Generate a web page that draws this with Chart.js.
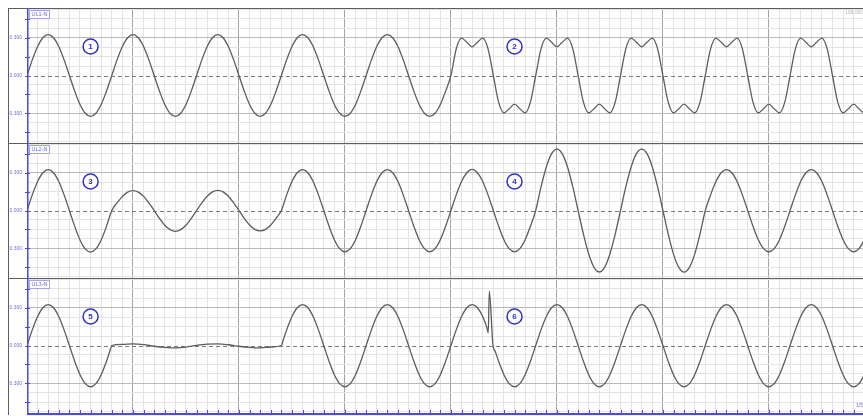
<!DOCTYPE html>
<html lang="en">
<head>
<meta charset="UTF-8">
<title>UL1-N / UL2-N / UL3-N</title>
<style>
  html, body { margin: 0; padding: 0; background: #fff; }
  #wrap { position: relative; width: 863px; height: 416px; overflow: hidden; background: #fff; }
  #wrap canvas { position: absolute; left: 0; }
</style>
</head>
<body>
<div id="wrap">
  <canvas id="ul1" width="863" height="143" style="top:0px"></canvas>
  <canvas id="ul2" width="863" height="135" style="top:143px"></canvas>
  <canvas id="ul3" width="863" height="138" style="top:278px"></canvas>
</div>

<script src="https://cdn.jsdelivr.net/npm/chart.js"></script>
<script>
// time in ms

// sample times shared by UL1-N and UL2-N
const timeMs = [
  0, 1.25, 2.5, 3.75, 5, 6.25, 7.5, 8.75, 10, 11.25, 12.5, 13.75, 15, 16.25, 17.5, 18.75,
  20, 21.25, 22.5, 23.75, 25, 26.25, 27.5, 28.75, 30, 31.25, 32.5, 33.75, 35, 36.25, 37.5, 38.75,
  40, 41.25, 42.5, 43.75, 45, 46.25, 47.5, 48.75, 50, 51.25, 52.5, 53.75, 55, 56.25, 57.5, 58.75,
  60, 61.25, 62.5, 63.75, 65, 66.25, 67.5, 68.75, 70, 71.25, 72.5, 73.75, 75, 76.25, 77.5, 78.75,
  80, 81.25, 82.5, 83.75, 85, 86.25, 87.5, 88.75, 90, 91.25, 92.5, 93.75, 95, 96.25, 97.5, 98.75,
  100, 101.25, 102.5, 103.75, 105, 106.25, 107.5, 108.75, 110, 111.25, 112.5, 113.75, 115, 116.25, 117.5, 118.75,
  120, 121.25, 122.5, 123.75, 125, 126.25, 127.5, 128.75, 130, 131.25, 132.5, 133.75, 135, 136.25, 137.5, 138.75,
  140, 141.25, 142.5, 143.75, 145, 146.25, 147.5, 148.75, 150, 151.25, 152.5, 153.75, 155, 156.25, 157.5, 158.75,
  160, 161.25, 162.5, 163.75, 165, 166.25, 167.5, 168.75, 170, 171.25, 172.5, 173.75, 175, 176.25, 177.5, 178.75,
  180, 181.25, 182.5, 183.75, 185, 186.25, 187.5, 188.75, 190, 191.25, 192.5, 193.75, 195, 196.25, 197.5, 198.75,
  200
];

// UL1-N: five clean cycles, then five flat-topped cycles
const ul1Volt = [
  0, 0.124, 0.23, 0.30, 0.325, 0.30, 0.23, 0.124, 0, -0.124, -0.23, -0.30, -0.325, -0.30, -0.23, -0.124,
  0, 0.124, 0.23, 0.30, 0.325, 0.30, 0.23, 0.124, 0, -0.124, -0.23, -0.30, -0.325, -0.30, -0.23, -0.124,
  0, 0.124, 0.23, 0.30, 0.325, 0.30, 0.23, 0.124, 0, -0.124, -0.23, -0.30, -0.325, -0.30, -0.23, -0.124,
  0, 0.124, 0.23, 0.30, 0.325, 0.30, 0.23, 0.124, 0, -0.124, -0.23, -0.30, -0.325, -0.30, -0.23, -0.124,
  0, 0.124, 0.23, 0.30, 0.325, 0.30, 0.23, 0.124, 0, -0.124, -0.23, -0.30, -0.325, -0.30, -0.23, -0.124,
  0, 0.212, 0.297, 0.264, 0.228, 0.264, 0.297, 0.212, 0, -0.212, -0.297, -0.264, -0.228, -0.264, -0.297, -0.212,
  0, 0.212, 0.297, 0.264, 0.228, 0.264, 0.297, 0.212, 0, -0.212, -0.297, -0.264, -0.228, -0.264, -0.297, -0.212,
  0, 0.212, 0.297, 0.264, 0.228, 0.264, 0.297, 0.212, 0, -0.212, -0.297, -0.264, -0.228, -0.264, -0.297, -0.212,
  0, 0.212, 0.297, 0.264, 0.228, 0.264, 0.297, 0.212, 0, -0.212, -0.297, -0.264, -0.228, -0.264, -0.297, -0.212,
  0, 0.212, 0.297, 0.264, 0.228, 0.264, 0.297, 0.212, 0, -0.212, -0.297, -0.264, -0.228, -0.264, -0.297, -0.212,
  0
];

// UL2-N: sag in cycles 2-3, swell in cycles 7-8
const ul2Volt = [
  0, 0.124, 0.23, 0.30, 0.325, 0.30, 0.23, 0.124, 0, -0.126, -0.234, -0.305, -0.33, -0.305, -0.234, -0.126,
  0, 0.060, 0.112, 0.146, 0.158, 0.146, 0.112, 0.060, 0, -0.063, -0.117, -0.152, -0.165, -0.152, -0.117, -0.063,
  0, 0.061, 0.113, 0.148, 0.160, 0.148, 0.113, 0.061, 0, -0.062, -0.115, -0.150, -0.162, -0.150, -0.115, -0.062,
  0, 0.124, 0.23, 0.30, 0.325, 0.30, 0.23, 0.124, 0, -0.125, -0.232, -0.303, -0.328, -0.303, -0.232, -0.125,
  0, 0.124, 0.23, 0.30, 0.325, 0.30, 0.23, 0.124, 0, -0.125, -0.232, -0.303, -0.328, -0.303, -0.232, -0.125,
  0, 0.124, 0.23, 0.30, 0.326, 0.30, 0.23, 0.124, 0, -0.125, -0.232, -0.303, -0.328, -0.303, -0.232, -0.125,
  0, 0.187, 0.345, 0.451, 0.488, 0.451, 0.345, 0.187, 0, -0.187, -0.345, -0.451, -0.488, -0.451, -0.345, -0.187,
  0, 0.187, 0.345, 0.451, 0.488, 0.451, 0.345, 0.187, 0, -0.187, -0.346, -0.452, -0.49, -0.452, -0.346, -0.187,
  0, 0.124, 0.23, 0.30, 0.325, 0.30, 0.23, 0.124, 0, -0.125, -0.232, -0.303, -0.328, -0.303, -0.232, -0.125,
  0, 0.124, 0.23, 0.30, 0.325, 0.30, 0.23, 0.124, 0, -0.125, -0.232, -0.303, -0.328, -0.303, -0.232, -0.125,
  0
];

// UL3-N: interruption for two cycles, transient spike near 109 ms
const ul3Time = [
  0, 1.25, 2.5, 3.75, 5, 6.25, 7.5, 8.75, 10, 11.25, 12.5, 13.75, 15, 16.25, 17.5, 18.75, 19.5,
  20, 22.5, 25, 27.5, 30, 32.5, 35, 37.5, 40, 42.5, 45, 47.5, 50, 52.5, 55, 57.5,
  60, 60.5, 61.25, 62.5, 63.75, 65, 66.25, 67.5, 68.75, 70, 71.25, 72.5, 73.75, 75, 76.25, 77.5, 78.75,
  80, 81.25, 82.5, 83.75, 85, 86.25, 87.5, 88.75, 90, 91.25, 92.5, 93.75, 95, 96.25, 97.5, 98.75,
  100, 101.25, 102.5, 103.75, 105, 106.25, 107.5, 108.5, 108.8, 109.05, 109.9, 110.5, 111.25, 112.5, 113.75, 115, 116.25, 117.5, 118.75,
  120, 121.25, 122.5, 123.75, 125, 126.25, 127.5, 128.75, 130, 131.25, 132.5, 133.75, 135, 136.25, 137.5, 138.75,
  140, 141.25, 142.5, 143.75, 145, 146.25, 147.5, 148.75, 150, 151.25, 152.5, 153.75, 155, 156.25, 157.5, 158.75,
  160, 161.25, 162.5, 163.75, 165, 166.25, 167.5, 168.75, 170, 171.25, 172.5, 173.75, 175, 176.25, 177.5, 178.75,
  180, 181.25, 182.5, 183.75, 185, 186.25, 187.5, 188.75, 190, 191.25, 192.5, 193.75, 195, 196.25, 197.5, 198.75,
  200
];
const ul3Volt = [
  0, 0.124, 0.23, 0.30, 0.325, 0.30, 0.23, 0.124, 0, -0.125, -0.232, -0.303, -0.328, -0.303, -0.232, -0.125, -0.05,
  0, 0.009, 0.013, 0.007, -0.006, -0.015, -0.019, -0.013, 0.001, 0.011, 0.013, 0.006, -0.006, -0.015, -0.019, -0.012,
  0, 0.05, 0.124, 0.23, 0.30, 0.325, 0.30, 0.23, 0.124, 0, -0.125, -0.232, -0.303, -0.328, -0.303, -0.232, -0.125,
  0, 0.124, 0.23, 0.30, 0.325, 0.30, 0.23, 0.124, 0, -0.125, -0.232, -0.303, -0.328, -0.303, -0.232, -0.125,
  0, 0.124, 0.23, 0.30, 0.325, 0.30, 0.23, 0.14, 0.10, 0.43, 0.01, -0.051, -0.125, -0.232, -0.303, -0.328, -0.303, -0.232, -0.125,
  0, 0.124, 0.23, 0.30, 0.325, 0.30, 0.23, 0.124, 0, -0.125, -0.232, -0.303, -0.328, -0.303, -0.232, -0.125,
  0, 0.124, 0.23, 0.30, 0.325, 0.30, 0.23, 0.124, 0, -0.125, -0.232, -0.303, -0.328, -0.303, -0.232, -0.125,
  0, 0.124, 0.23, 0.30, 0.325, 0.30, 0.23, 0.124, 0, -0.125, -0.232, -0.303, -0.328, -0.303, -0.232, -0.125,
  0, 0.124, 0.23, 0.30, 0.325, 0.30, 0.23, 0.124, 0, -0.125, -0.232, -0.303, -0.328, -0.303, -0.232, -0.125,
  0
];

const yTickValues = [0.3, 0, -0.3];
const yTickLabels = ['0.300', '0.000', '-0.300'];
const stripNames = ['UL1-N', 'UL2-N', 'UL3-N'];
const eventNumbers = [['1', '2'], ['3', '4'], ['5', '6']];

const BLUE = '#4a4ae2';
const LABEL_BLUE = '#6b6bd6';

// frame, blue axes, labels and the numbered circles
const decor = {
    id: 'decor',
    beforeDatasetsDraw(chart) {
        const { ctx, chartArea: a } = chart;
        const y0 = Math.round(chart.scales.y.getPixelForValue(0)) + 0.5;
        ctx.save();
        ctx.strokeStyle = '#7c7c7c';
        ctx.lineWidth = 1;
        ctx.setLineDash([4, 3]);
        ctx.beginPath();
        ctx.moveTo(a.left, y0);
        ctx.lineTo(a.right, y0);
        ctx.stroke();
        ctx.restore();
    },
    afterDraw(chart, args, o) {
        const { ctx, chartArea: a, scales: { x, y } } = chart;
        ctx.save();

        // left edge + line on top of each strip
        ctx.strokeStyle = '#5e5e5e';
        ctx.lineWidth = 1;
        ctx.beginPath();
        ctx.moveTo(8.5, a.top);
        ctx.lineTo(8.5, a.bottom);
        ctx.moveTo(8, a.top + 0.5);
        ctx.lineTo(a.right, a.top + 0.5);
        ctx.stroke();

        // value axis
        ctx.strokeStyle = BLUE;
        ctx.lineWidth = 1.5;
        ctx.beginPath();
        ctx.moveTo(a.left + 0.75, a.top);
        ctx.lineTo(a.left + 0.75, a.bottom);
        ctx.stroke();
        ctx.lineWidth = 1;
        ctx.beginPath();
        [-0.45, -0.3, -0.15, 0, 0.15, 0.3, 0.45].forEach(v => {
            const py = Math.round(y.getPixelForValue(v)) + 0.5;
            ctx.moveTo(a.left - 2, py);
            ctx.lineTo(a.left + 3, py);
        });
        ctx.stroke();

        ctx.fillStyle = LABEL_BLUE;
        ctx.font = '5px "Liberation Sans", Arial, sans-serif';
        ctx.textAlign = 'right';
        ctx.textBaseline = 'middle';
        yTickValues.forEach((v, i) => {
            ctx.fillText(yTickLabels[i], a.left - 5, y.getPixelForValue(v));
        });

        // strip name tag
        ctx.fillStyle = '#ffffff';
        ctx.fillRect(29.5, a.top + 2.5, 20, 8);
        ctx.strokeStyle = '#a4a4e8';
        ctx.strokeRect(29.5, a.top + 2.5, 20, 8);
        ctx.fillStyle = LABEL_BLUE;
        ctx.font = '5.5px "Liberation Sans", Arial, sans-serif';
        ctx.textAlign = 'center';
        ctx.fillText(o.name, 39.5, a.top + 6.7);

        // numbered event circles
        o.numbers.forEach((n, i) => {
            const cx = x.getPixelForValue(o.markAt[i]);
            const cy = y.getPixelForValue(o.markLevel);
            ctx.beginPath();
            ctx.arc(cx, cy, 7.5, 0, Math.PI * 2);
            ctx.fillStyle = '#ffffff';
            ctx.fill();
            ctx.strokeStyle = '#2f2fd4';
            ctx.lineWidth = 1.5;
            ctx.stroke();
            ctx.fillStyle = '#2f2fd4';
            ctx.font = 'bold 8px "Liberation Sans", Arial, sans-serif';
            ctx.fillText(n, cx, cy + 0.5);
        });

        if (o.corner) {
            ctx.fillStyle = '#b4b4b4';
            ctx.font = '5px "Liberation Sans", Arial, sans-serif';
            ctx.textAlign = 'left';
            ctx.fillText('108,000', 845, a.top + 5);
        }

        if (o.timeAxis) {
            ctx.strokeStyle = BLUE;
            ctx.lineWidth = 2;
            ctx.beginPath();
            ctx.moveTo(a.left, a.bottom + 1);
            ctx.lineTo(a.right, a.bottom + 1);
            ctx.stroke();
            ctx.lineWidth = 1;
            ctx.beginPath();
            x.ticks.forEach(t => {
                const px = Math.round(x.getPixelForValue(t.value)) + 0.5;
                ctx.moveTo(px, a.bottom);
                ctx.lineTo(px, a.bottom - 3);
            });
            ctx.moveTo(8.5, a.bottom);
            ctx.lineTo(8.5, a.bottom + 2);
            ctx.stroke();
            ctx.fillStyle = LABEL_BLUE;
            ctx.font = '5px "Liberation Sans", Arial, sans-serif';
            ctx.textAlign = 'left';
            ctx.fillText('1/5', 856, a.bottom - 7);
        }
        ctx.restore();
    }
};

function makeStrip(canvasId, times, volts, idx, pad) {
    const points = times.map((t, i) => ({ x: t, y: volts[i] }));
    return new Chart(document.getElementById(canvasId), {
        type: 'line',
        data: {
            datasets: [{
                data: points,
                borderColor: '#5c5c5c',
                borderWidth: 1.3,
                pointRadius: 0,
                fill: false,
                cubicInterpolationMode: 'monotone'
            }]
        },
        options: {
            responsive: false,
            animation: false,
            events: [],
            layout: { padding: { top: pad.top, bottom: pad.bottom, left: 0, right: 0 } },
            scales: {
                x: {
                    type: 'linear',
                    bounds: 'data',
                    min: 0,
                    max: 197.2,
                    afterBuildTicks: s => {
                        const t = [];
                        for (let k = 0; k <= 78; k++) t.push({ value: k * 2.5 });
                        s.ticks = t;
                    },
                    ticks: { display: false },
                    grid: {
                        drawTicks: false,
                        color: c => (c.tick && c.tick.value % 25 === 0) ? '#a3a3a3' : '#e4e4e4'
                    },
                    border: { display: false }
                },
                y: {
                    type: 'linear',
                    bounds: 'data',
                    min: -0.536,
                    max: 0.536,
                    afterFit: s => { s.width = 27; },
                    afterBuildTicks: s => {
                        const t = [];
                        for (let k = -7; k <= 7; k++) t.push({ value: k * 75 / 1000 });
                        s.ticks = t;
                    },
                    ticks: { display: false },
                    grid: {
                        drawTicks: false,
                        color: c => {
                            const k = c.index - 7;
                            if (k === 0) return 'rgba(0,0,0,0)';
                            return Math.abs(k) === 4 ? '#b9b9b9' : '#e4e4e4';
                        }
                    },
                    border: { display: false }
                }
            },
            plugins: {
                legend: { display: false },
                tooltip: { enabled: false },
                decor: {
                    name: stripNames[idx],
                    numbers: eventNumbers[idx],
                    markAt: [15, 115],
                    markLevel: 0.23,
                    corner: idx === 0,
                    timeAxis: idx === 2
                }
            }
        },
        plugins: [decor]
    });
}

makeStrip('ul1', timeMs, ul1Volt, 0, { top: 8, bottom: 0 });
makeStrip('ul2', timeMs, ul2Volt, 1, { top: 0, bottom: 0 });
makeStrip('ul3', ul3Time, ul3Volt, 2, { top: 0, bottom: 3 });
</script>
</body>
</html>
